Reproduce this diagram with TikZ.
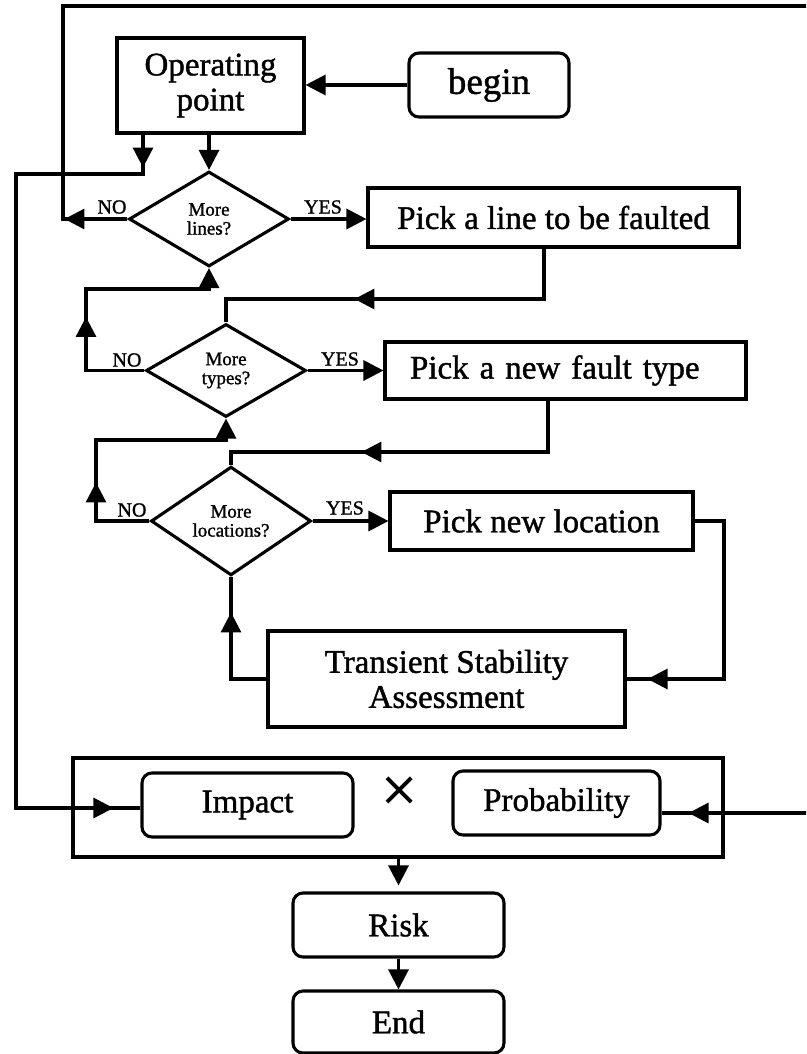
\documentclass[tikz,border=0pt]{standalone}
\usepackage{fontspec}
\setmainfont{Liberation Serif}[FakeBold=1.2]
\newfontfamily\crossfont{DejaVu Sans}
\usetikzlibrary{arrows.meta,shapes.geometric,decorations.markings}

\tikzset{
  Tri/.tip={Triangle[length=20pt,width=20pt]},
  flow/.style={draw, line width=3.1pt},
  procbox/.style={draw, rectangle, line width=3.1pt, inner sep=0pt, align=center,
                  font=\fontsize{33}{35}\selectfont},
  termbox/.style={procbox, rounded corners=10pt},
  decision/.style={draw, diamond, line width=3.1pt, inner sep=0pt, align=center,
                   minimum width=160pt, minimum height=95pt,
                   font=\fontsize{19}{19}\selectfont},
  branch/.style={inner sep=0pt, font=\fontsize{20}{20}\selectfont},
  % arrow head placed part-way along a connector
  tipat/.style={postaction={decorate, decoration={markings,
                mark=at position #1 with {\arrow{Tri}}}}}
}

\begin{document}
\begin{tikzpicture}[x=1pt, y=-1pt]
\useasboundingbox (0,0) rectangle (806,1054);
\clip (0,0) rectangle (806,1054);

% ---- blocks ----
\node[procbox, minimum width=187pt, minimum height=95pt] (OP) at (210.5,85.5) {Operating\\point};
\node[termbox, minimum width=160pt, minimum height=64pt,
      font=\fontsize{37}{40}\selectfont] (begin) at (489,85) {begin};
\node[decision] (D1) at (209,219) {More\\lines?};
\node[procbox, minimum width=371pt, minimum height=59pt] (PL) at (553.5,217.5) {Pick a line to be faulted};
\node[decision, minimum height=93pt] (D2) at (226,370.5) {More\\types?};
\node[procbox, minimum width=361pt, minimum height=57pt, text width=311pt, align=left]
      (PF) at (565.5,370.5) {Pick a new fault type};
\node[decision, minimum height=96pt] (D3) at (231,521) {More\\locations?};
\node[procbox, minimum width=303pt, minimum height=58pt] (PN) at (541.5,521) {Pick new location};
\node[procbox, minimum width=357pt, minimum height=96pt] (TSA) at (446.5,679) {Transient Stability\\Assessment};
\node[procbox, minimum width=650pt, minimum height=99pt] (RP) at (398,807.5) {};
\node[termbox, minimum width=211pt, minimum height=64pt] (Impact) at (247.5,805) {Impact};
\node[termbox, minimum width=207pt, minimum height=64pt] (Prob) at (556.5,803) {Probability};
\node[inner sep=0pt, font=\crossfont\fontsize{48}{48}\selectfont] (times) at (400,791) {×};
\node[termbox, minimum width=211pt, minimum height=64pt] (Risk) at (398.5,925) {Risk};
\node[termbox, minimum width=211pt, minimum height=62pt] (End) at (398.5,1022) {End};

% ---- branch labels ----
\node[branch] (no1)  at (112,207) {NO};
\node[branch] (yes1) at (323,207) {YES};
\node[branch] (no2)  at (127,360) {NO};
\node[branch] (yes2) at (340,359) {YES};
\node[branch] (no3)  at (132,510) {NO};
\node[branch] (yes3) at (345,508) {YES};

% ---- bend points ----
\coordinate (tl)  at (63,6);
\coordinate (tr)  at (815,6);
\coordinate (opl) at (143,174);
\coordinate (lx)  at (16,174);
\coordinate (c2)  at (544,299);
\coordinate (c3)  at (86,289);
\coordinate (c4)  at (96,440);
\coordinate (c5)  at (548,452);
\coordinate (c6)  at (724,521);
\coordinate (impin)  at ([yshift=-3pt]Impact.west);
\coordinate (probin) at ([yshift=-10pt]Prob.east);

% ---- connectors ----
\draw[flow,-{Tri}] (begin.west) -- (begin.west -| OP.east);
\draw[flow,-{Tri}] (D1.north |- OP.south) -- (D1.north);
\draw[flow, tipat=33pt, tipat=-27pt]
     (opl |- OP.south) -- (opl) -- (lx) -- (lx |- impin) -- (impin);
\draw[flow, tipat=63pt, tipat=-27pt]
     (D1.west) -- (D1.west -| tl) -- (tl) -- (tr) -- (tr |- probin) -- (probin);
\draw[flow,-{Tri}] (D1.east) -- (D1.east -| PL.west);
\draw[flow, tipat=240pt] (c2 |- PL.south) -- (c2) -- (c2 -| D2.north) -- (D2.north);
\draw[flow,-{Tri}, tipat=112pt] (D2.west) -- (D2.west -| c3) -- (c3) -- (c3 -| D1.south) -- (D1.south);
\draw[flow,-{Tri}] (D2.east) -- (D2.east -| PF.west);
\draw[flow, tipat=238pt] (c5 |- PF.south) -- (c5) -- (c5 -| D3.north) -- (D3.north);
\draw[flow,-{Tri}, tipat=92pt] (D3.west) -- (D3.west -| c4) -- (c4) -- (c4 -| D2.south) -- (D2.south);
\draw[flow,-{Tri}] (D3.east) -- (D3.east -| PN.west);
\draw[flow, tipat=-21pt] (PN.east) -- (c6) -- (c6 |- TSA.east) -- (TSA.east);
\draw[flow, tipat=102pt] (TSA.west) -- (TSA.west -| D3.south) -- (D3.south);
\draw[flow,-{Tri}, shorten >=6pt] (Risk.north |- RP.south) -- (Risk.north);
\draw[flow,-{Tri}] (Risk.south) -- (End.north);
\end{tikzpicture}
\end{document}
